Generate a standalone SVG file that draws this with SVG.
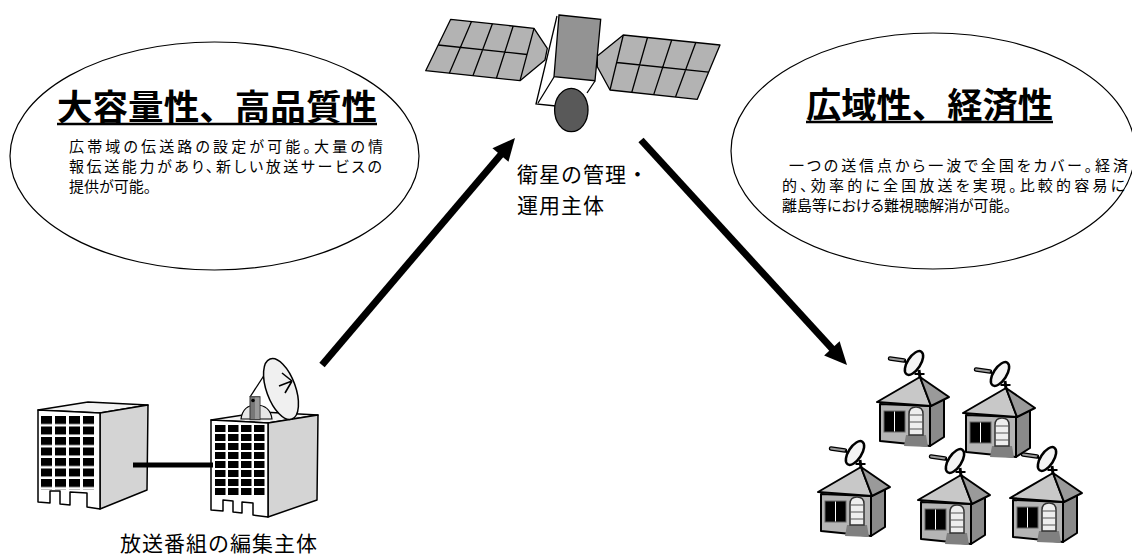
<svg xmlns="http://www.w3.org/2000/svg" width="1132" height="555" viewBox="0 0 1132 555">
  <defs>
    <style>
      .ell{fill:#fff;stroke:#000;stroke-width:1.2}
      .ttl{font-family:"Noto Sans CJK JP",sans-serif;font-weight:700;font-size:35px;fill:#000}
      .body{font-family:"Noto Sans CJK JP",sans-serif;font-size:15px;fill:#000;font-feature-settings:"palt"}
      .lbl{font-family:"Noto Sans CJK JP",sans-serif;font-size:21px;fill:#000;letter-spacing:1px}
      .ul{stroke:#000;stroke-width:2.5}
      .ln{stroke:#000;stroke-width:1.3;fill:none}
      .panel{fill:#b3b3b3;stroke:#000;stroke-width:1.3;stroke-linejoin:round}
      .bld{stroke:#000;stroke-width:1.5;stroke-linejoin:round}
      .hs{stroke:#000;stroke-width:2;stroke-linejoin:round}
      .arrow{stroke:#000;stroke-width:7;fill:none;marker-end:url(#ah)}
      .bar{stroke:#000;stroke-width:5}
    </style>
    <marker id="ah" markerUnits="strokeWidth" markerWidth="3.2" markerHeight="3" refX="1" refY="1.5" orient="auto" overflow="visible">
      <path d="M0,0 L3.2,1.5 L0,3 Z" fill="#000"/>
    </marker>
    <pattern id="winL" patternUnits="userSpaceOnUse" x="41" y="416" width="14" height="10.5">
      <rect x="0" y="0" width="11" height="8" fill="#000"/>
    </pattern>
    <pattern id="winR" patternUnits="userSpaceOnUse" x="215" y="425" width="13" height="9">
      <rect x="0" y="0" width="10.5" height="7" fill="#000"/>
    </pattern>
    <!-- small house with a rooftop dish; origin at the left eave -->
    <g id="houseShape">
      <path d="M13,-43.5 L27,-41.5" stroke="#000" stroke-width="4.5" stroke-linecap="round"/>
      <path d="M13,-43.5 L27,-41.5" stroke="#999" stroke-width="1.8" stroke-linecap="round"/>
      <line x1="27" y1="-41.5" x2="33" y2="-36" stroke="#000" stroke-width="2"/>
      <line x1="42" y1="-32" x2="43" y2="-24" stroke="#000" stroke-width="3"/>
      <line x1="37.5" y1="-28" x2="47.5" y2="-28" stroke="#000" stroke-width="2"/>
      <ellipse cx="37" cy="-39" rx="6.5" ry="13.5" transform="rotate(33 37 -39)" fill="#f4f4f4" stroke="#000" stroke-width="2.5"/>
      <polygon class="hs" points="3,2 53,4 53,44 3,39" fill="#b5b5b5"/>
      <polygon class="hs" points="53,4 67,-3 67,35 53,44" fill="#8a8a8a"/>
      <polygon class="hs" points="0,0 43,-25 54,4" fill="#c8c8c8"/>
      <polygon class="hs" points="43,-25 72,-5 54,4" fill="#9a9a9a"/>
      <rect x="7" y="9" width="21" height="21" fill="#000" stroke="#666" stroke-width="1"/>
      <line x1="17.5" y1="9.5" x2="17.5" y2="29.5" stroke="#fff" stroke-width="1"/>
      <polygon points="29,33 49,33 51,45 27,44" fill="#808080"/>
      <path d="M32,33 L32,12 Q32,5 39,5 Q46,5 46,12 L46,33 Z" fill="#eee" stroke="#333" stroke-width="1.5"/>
      <path d="M32,13 L46,13 M32,20 L46,20 M32,27 L46,27" stroke="#555" stroke-width="1.2"/>
    </g>
  </defs>

  <rect width="1132" height="555" fill="#fff"/>

  <!-- feature bubbles -->
  <g id="capacity-bubble">
    <ellipse class="ell" cx="214.5" cy="156" rx="204.5" ry="114"/>
    <text class="ttl" x="57" y="120" textLength="320" lengthAdjust="spacingAndGlyphs">大容量性、高品質性</text>
    <line class="ul" x1="57" y1="124" x2="377" y2="124"/>
    <text class="body" x="69" y="152" textLength="314" lengthAdjust="spacing">広帯域の伝送路の設定が可能。大量の情</text>
    <text class="body" x="69" y="172" textLength="313" lengthAdjust="spacing">報伝送能力があり、新しい放送サービスの</text>
    <text class="body" x="69" y="192">提供が可能。</text>
  </g>

  <g id="coverage-bubble">
    <ellipse class="ell" cx="933" cy="151" rx="202" ry="118"/>
    <text class="ttl" x="806" y="118" textLength="247" lengthAdjust="spacingAndGlyphs">広域性、経済性</text>
    <line class="ul" x1="806" y1="122" x2="1053" y2="122"/>
    <text class="body" x="789" y="171" textLength="339" lengthAdjust="spacing">一つの送信点から一波で全国をカバー。経済</text>
    <text class="body" x="782" y="191" textLength="343" lengthAdjust="spacing">的、効率的に全国放送を実現。比較的容易に</text>
    <text class="body" x="782" y="211">離島等における難視聴解消が可能。</text>
  </g>

  <!-- satellite -->
  <g id="satellite">
    <polygon class="panel" points="450.7,19.3 534,28.3 547.3,48.3 545,60 520,80.7 425.7,70.7"/>
    <path class="ln" d="M534,28.3 L520,80.7 M438.2,45 L527,54.5 M471.5,21.5 L449.3,73.2 M492.4,23.8 L472.9,75.7 M513.2,26 L496.4,78.2"/>
    <polygon class="panel" points="623.3,35 720,45 697.3,99.3 610,90 597.3,66.7 597.3,56"/>
    <path class="ln" d="M623.3,35 L610,90 M616.7,62.5 L708.7,72.2 M647.5,37.5 L631.8,92.3 M671.7,40 L653.7,94.6 M695.8,42.5 L675.5,96.9"/>
    <path class="ln" d="M557,16 L536,104 L556,106 M554,77 L538,103 M595,81 L587,93"/>
    <polygon points="559,15 600.7,19.3 595,80.7 554,76.7" fill="#939393" stroke="#000" stroke-width="1.3"/>
    <ellipse cx="571.3" cy="110" rx="16.7" ry="21.7" fill="#595959" stroke="#000" stroke-width="1.3"/>
    <text class="lbl" x="517" y="182">衛星の管理・<tspan x="517" dy="31">運用主体</tspan></text>
  </g>

  <!-- programme production buildings -->
  <g id="studio-building">
    <polygon class="bld" points="38,410 100,413 148,405 88,402" fill="#f2f2f2"/>
    <polygon class="bld" points="100,413 148,405 147,490 100,509" fill="#d4d4d4"/>
    <path class="bld" d="M38,410 L100,413 L100,509 L87,507 L87,493 L70,492 L70,505 L60,504 L60,491 L50,491 L50,503 L38,502 Z" fill="#fff"/>
    <rect x="41" y="416" width="56" height="73.5" fill="url(#winL)"/>
  </g>

  <g id="uplink-building">
    <polygon class="bld" points="211,420 268,423 318,415 262,412" fill="#f2f2f2"/>
    <polygon class="bld" points="268,423 318,415 317,500 268,517" fill="#d4d4d4"/>
    <path class="bld" d="M211,420 L268,423 L268,517 L253,515 L253,503 L242,502 L242,513 L233,512 L233,501 L223,500 L223,511 L211,510 Z" fill="#fff"/>
    <rect x="215" y="425" width="52" height="72" fill="url(#winR)"/>
    <path d="M241,419 Q243,405 256,405 Q270,405 272,419 Z" fill="#e8e8e8" stroke="#000" stroke-width="1.2"/>
    <line class="ln" x1="264.3" y1="375" x2="250" y2="397"/>
    <rect x="250" y="396.7" width="10" height="23" fill="#777" stroke="#333" stroke-width="1"/>
    <rect x="255" y="397.5" width="4.5" height="21.5" fill="#9a9a9a"/>
    <circle cx="253" cy="400.5" r="1.8" fill="#000"/>
    <ellipse cx="281" cy="389" rx="14.5" ry="32" transform="rotate(-20 281 389)" fill="#f0f0f0" stroke="#000" stroke-width="1.5"/>
    <path d="M279,386 L292,381 M282,373 L292,381 M285,393 L292,381" stroke="#000" stroke-width="1.6" fill="none"/>
    <text class="lbl" x="120" y="551">放送番組の編集主体</text>
  </g>

  <!-- receiving households -->
  <g id="house-1"><use href="#houseShape" transform="translate(818,492)"/></g>
  <g id="house-2"><use href="#houseShape" transform="translate(918,500)"/></g>
  <g id="house-3"><use href="#houseShape" transform="translate(1010,498)"/></g>
  <g id="house-4"><use href="#houseShape" transform="translate(877,402)"/></g>
  <g id="house-5"><use href="#houseShape" transform="translate(963,413)"/></g>

  <!-- links -->
  <g id="connectors">
    <line class="bar" x1="133" y1="465" x2="213" y2="465"/>
    <line class="arrow" x1="322" y1="365" x2="505" y2="149.7"/>
    <line class="arrow" x1="641" y1="140" x2="836.6" y2="353.6"/>
  </g>
</svg>
